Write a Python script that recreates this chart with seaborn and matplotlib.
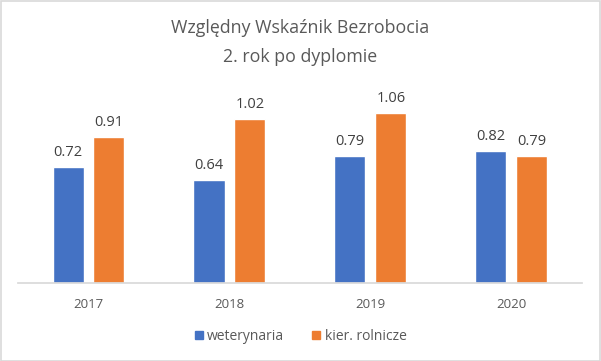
import pandas as pd
import seaborn as sns
import matplotlib.pyplot as plt
from matplotlib.patches import Rectangle

years = ["2017", "2018", "2019", "2020"]
weterynaria = [0.72, 0.64, 0.79, 0.82]
rolnicze = [0.91, 1.02, 1.06, 0.79]
series = ["weterynaria", "kier. rolnicze"]
colors = ["#4472C4", "#ED7D31"]

df = pd.DataFrame({
    "rok": years * 2,
    "wartosc": weterynaria + rolnicze,
    "kierunek": [series[0]] * 4 + [series[1]] * 4,
})

sns.set_theme(style="white")
plt.rcParams['font.family'] = ['Open Sans', 'DejaVu Sans']

fig = plt.figure(figsize=(6.01, 3.61), dpi=100)
ax = fig.add_axes([0.03, 0.216, 0.938, 0.534])

sns.barplot(data=df, x="rok", y="wartosc", hue="kierunek",
            palette=colors, saturation=1, width=0.58, gap=0.24,
            ax=ax, legend=False)

for c in ax.containers:
    ax.bar_label(c, fmt="%.2f", padding=5, fontsize=10.5, color="#404040")

ax.set_ylim(0, 1.2)
ax.set_xlim(-0.5, 3.5)
ax.set_xlabel("")
ax.set_ylabel("")
ax.set_yticks([])
for s in ["top", "left", "right"]:
    ax.spines[s].set_visible(False)
ax.spines["bottom"].set_color("#D9D9D9")
ax.tick_params(axis="x", length=0, pad=11, labelsize=9.5, labelcolor="#595959")

fig.text(0.5, 0.882, "Względny Wskaźnik Bezrobocia\n2. rok po dyplomie",
         ha="center", va="center", fontsize=12.8, color="#595959",
         linespacing=1.75)

# legend
handles = [Rectangle((0, 0), 1, 1, color=c) for c in colors]
fig.legend(handles, series, loc="center", bbox_to_anchor=(0.5, 0.068),
           ncol=2, frameon=False, fontsize=10, handlelength=0.6,
           handleheight=0.6, handletextpad=0.3, columnspacing=2.0,
           labelcolor="#595959")

fig.patches.append(Rectangle((0.001, 0.001), 0.997, 0.996, transform=fig.transFigure,
                             fill=False, edgecolor="#D9D9D9", linewidth=1.2))

plt.savefig("out.png", dpi=100)
